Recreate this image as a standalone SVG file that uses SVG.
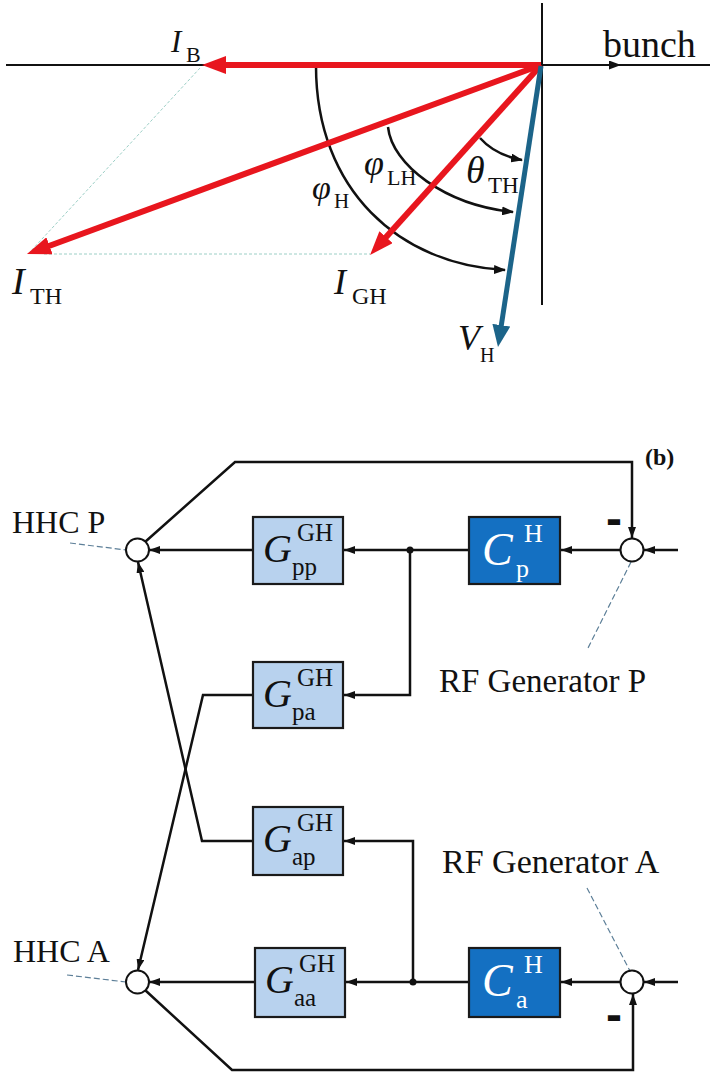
<svg xmlns="http://www.w3.org/2000/svg" width="718" height="1078" viewBox="0 0 718 1078">
<style>
text{font-family:"Liberation Serif","Times New Roman",serif;fill:#111}
.it{font-style:italic}
.ax{stroke:#111;stroke-width:2;fill:none}
.red{stroke:#e8161e;stroke-width:6;fill:none}
.blue{stroke:#1c6489;stroke-width:5;fill:none}
.arc{stroke:#111;stroke-width:2.5;fill:none}
.dash{stroke:#9ccfc6;stroke-width:1;stroke-dasharray:3 2;fill:none}
.lead{stroke:#5d7f98;stroke-width:1.2;stroke-dasharray:6 3;fill:none}
.wire{stroke:#111;stroke-width:2.5;fill:none}
.gb{fill:#b8d2ee;stroke:#1a1a1a;stroke-width:2.2}
.cb{fill:#1470c2;stroke:#1a1a1a;stroke-width:2.2}
.sum{fill:#fff;stroke:#111;stroke-width:2}
.w{fill:#fff}
</style>
<defs>
<marker id="redHead" viewBox="0 0 24 18" markerWidth="24" markerHeight="18" markerUnits="userSpaceOnUse" refX="10" refY="9" orient="auto"><path d="M0,0 L24,9 L0,18 z" fill="#e8161e"/></marker>
<marker id="blueHead" viewBox="0 0 22 18" markerWidth="22" markerHeight="18" markerUnits="userSpaceOnUse" refX="10" refY="9" orient="auto"><path d="M0,0 L22,9 L0,18 z" fill="#1c6489"/></marker>
<marker id="arcHead" viewBox="0 0 12 9" markerWidth="12" markerHeight="9" markerUnits="userSpaceOnUse" refX="11" refY="4.5" orient="auto"><path d="M0,0 L12,4.5 L0,9 z" fill="#111"/></marker>
<marker id="head" viewBox="0 0 11 8" markerWidth="11" markerHeight="8" markerUnits="userSpaceOnUse" refX="11" refY="4" orient="auto"><path d="M0,0 L11,4 L0,8 z" fill="#111"/></marker>
</defs>
<rect width="718" height="1078" fill="#fff"/>

<!-- (a) phasor diagram -->
<g id="phasor">
  <line class="ax" x1="6" y1="65" x2="710" y2="65"/>
  <line class="ax" x1="541" y1="65" x2="620" y2="65" marker-end="url(#arcHead)"/>
  <line class="ax" x1="542" y1="3" x2="542" y2="305"/>
  <line class="dash" x1="200" y1="68" x2="30" y2="252"/>
  <line class="dash" x1="44" y1="254" x2="370" y2="254"/>
  <path class="arc" d="M316,66 C316,190 400,265 505,270" marker-end="url(#arcHead)"/>
  <path class="arc" d="M388,127 C392,165 445,205 513,212" marker-end="url(#arcHead)"/>
  <path class="arc" d="M480,138 Q495,155 522,160" marker-end="url(#arcHead)"/>
  <line class="red" x1="541" y1="65" x2="216" y2="65" marker-end="url(#redHead)"/>
  <line class="red" x1="541" y1="65" x2="40.1" y2="249.2" marker-end="url(#redHead)"/>
  <line class="red" x1="541" y1="65" x2="379.4" y2="244.6" marker-end="url(#redHead)"/>
  <line class="blue" x1="541" y1="66" x2="499.8" y2="335.1" marker-end="url(#blueHead)"/>
  <text x="603" y="57" font-size="38">bunch</text>
  <text font-size="31"><tspan class="it" x="171" y="52">I</tspan><tspan x="186" y="62" font-size="22">B</tspan></text>
  <text font-size="38"><tspan class="it" x="12" y="294">I</tspan><tspan x="30" y="304" font-size="24">TH</tspan></text>
  <text font-size="36"><tspan class="it" x="334" y="294">I</tspan><tspan x="352" y="304" font-size="24">GH</tspan></text>
  <text font-size="34"><tspan class="it" x="312" y="199">φ</tspan><tspan x="334" y="208" font-size="21">H</tspan></text>
  <text font-size="36"><tspan class="it" x="364" y="175">φ</tspan><tspan x="387" y="185" font-size="22">LH</tspan></text>
  <text font-size="38"><tspan class="it" x="466" y="183">θ</tspan><tspan x="488" y="193" font-size="23">TH</tspan></text>
  <text font-size="36"><tspan class="it" x="458" y="350">V</tspan><tspan x="480" y="362" font-size="20">H</tspan></text>
</g>

<!-- (b) block diagram -->
<text x="645" y="465" font-size="24" font-weight="bold">(b)</text>

<g id="connectors">
  <line class="wire" x1="678" y1="550" x2="644" y2="550" marker-end="url(#head)"/>
  <line class="wire" x1="620" y1="550" x2="561" y2="550" marker-end="url(#head)"/>
  <line class="wire" x1="469" y1="550" x2="344" y2="550" marker-end="url(#head)"/>
  <polyline class="wire" points="410,550 410,695 344,695" marker-end="url(#head)"/>
  <line class="wire" x1="253" y1="550" x2="149" y2="550" marker-end="url(#head)"/>
  <polyline class="wire" points="145,542 235,462 632,462 632,538" marker-end="url(#head)"/>
  <polyline class="wire" points="253,695 203,695 138,970" marker-end="url(#head)"/>
  <polyline class="wire" points="253,841 202,841 138,562" marker-end="url(#head)"/>
  <line class="wire" x1="678" y1="982" x2="644" y2="982" marker-end="url(#head)"/>
  <line class="wire" x1="620" y1="982" x2="561" y2="982" marker-end="url(#head)"/>
  <line class="wire" x1="469" y1="982" x2="346" y2="982" marker-end="url(#head)"/>
  <polyline class="wire" points="413,982 413,841 344,841" marker-end="url(#head)"/>
  <line class="wire" x1="255" y1="982" x2="149" y2="982" marker-end="url(#head)"/>
  <polyline class="wire" points="145,990 232,1070 633,1070 633,994" marker-end="url(#head)"/>
  <circle cx="410" cy="550" r="3.5" fill="#111"/>
  <circle cx="413" cy="982" r="3.5" fill="#111"/>
  <line class="lead" x1="70" y1="543" x2="126" y2="550"/>
  <line class="lead" x1="631" y1="562" x2="587" y2="650"/>
  <line class="lead" x1="587" y1="888" x2="630" y2="971"/>
  <line class="lead" x1="67" y1="975" x2="126" y2="982"/>
</g>

<g id="sumHHCP">
  <circle class="sum" cx="137.5" cy="550" r="11.5"/>
  <text x="12" y="533" font-size="32">HHC P</text>
</g>
<g id="sumRFP">
  <circle class="sum" cx="632" cy="550" r="11.5"/>
  <text x="606" y="535" font-size="48" font-weight="bold" style="font-family:'Liberation Sans',Arial,sans-serif">-</text>
  <text x="439" y="692" font-size="33">RF Generator P</text>
</g>
<g id="sumHHCA">
  <circle class="sum" cx="137.5" cy="982" r="11.5"/>
  <text x="13" y="962" font-size="32">HHC A</text>
</g>
<g id="sumRFA">
  <circle class="sum" cx="632" cy="982" r="11.5"/>
  <text x="606" y="1031" font-size="48" font-weight="bold" style="font-family:'Liberation Sans',Arial,sans-serif">-</text>
  <text x="442" y="873" font-size="34">RF Generator A</text>
</g>

<g id="Gpp">
  <rect class="gb" x="253" y="517" width="90" height="67"/>
  <text><tspan class="it" x="263" y="562" font-size="40">G</tspan><tspan x="297" y="541" font-size="25">GH</tspan><tspan x="292" y="575" font-size="25">pp</tspan></text>
</g>
<g id="Gpa">
  <rect class="gb" x="253" y="662" width="90" height="66"/>
  <text><tspan class="it" x="263" y="707" font-size="40">G</tspan><tspan x="297" y="686" font-size="25">GH</tspan><tspan x="292" y="720" font-size="25">pa</tspan></text>
</g>
<g id="Gap">
  <rect class="gb" x="253" y="807" width="90" height="68"/>
  <text><tspan class="it" x="263" y="852" font-size="40">G</tspan><tspan x="297" y="831" font-size="25">GH</tspan><tspan x="292" y="865" font-size="25">ap</tspan></text>
</g>
<g id="Gaa">
  <rect class="gb" x="255" y="948" width="90" height="69"/>
  <text><tspan class="it" x="265" y="993" font-size="40">G</tspan><tspan x="299" y="972" font-size="25">GH</tspan><tspan x="294" y="1006" font-size="25">aa</tspan></text>
</g>
<g id="Cp">
  <rect class="cb" x="469" y="517" width="91" height="67"/>
  <text class="w"><tspan class="it w" x="482" y="565" font-size="46">C</tspan><tspan class="w" x="524" y="542" font-size="26">H</tspan><tspan class="w" x="516" y="577" font-size="26">p</tspan></text>
</g>
<g id="Ca">
  <rect class="cb" x="469" y="948" width="91" height="69"/>
  <text class="w"><tspan class="it w" x="482" y="996" font-size="46">C</tspan><tspan class="w" x="524" y="973" font-size="26">H</tspan><tspan class="w" x="516" y="1008" font-size="26">a</tspan></text>
</g>
</svg>
